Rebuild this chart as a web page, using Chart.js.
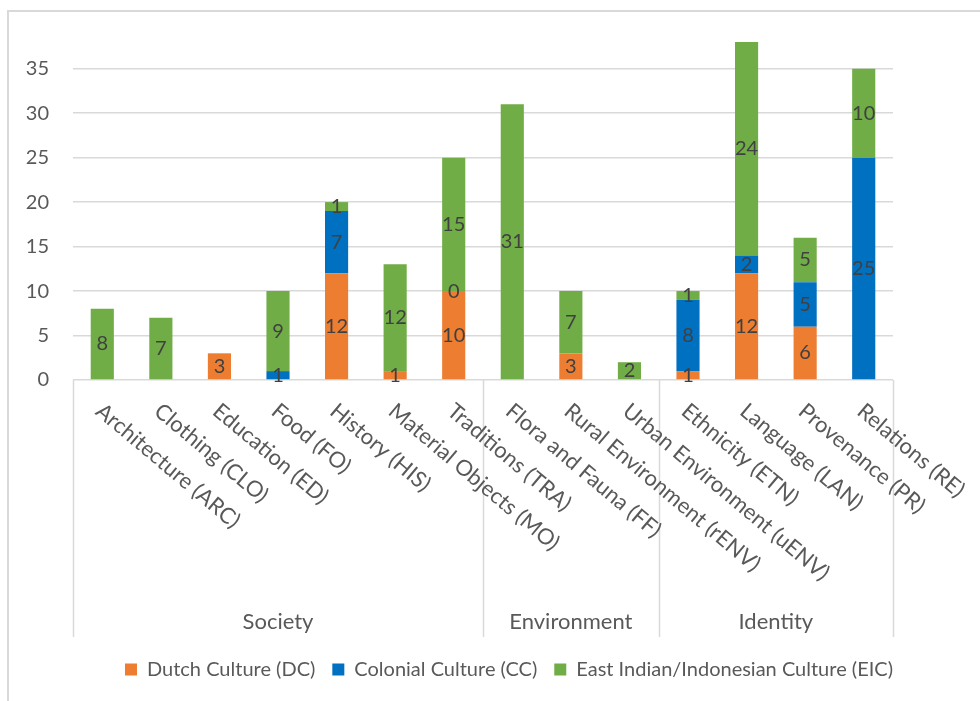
<!DOCTYPE html>
<html>
<head>
<meta charset="utf-8">
<title>Cultural references by category</title>
<script src="https://cdn.jsdelivr.net/npm/chart.js@4/dist/chart.umd.min.js"></script>
<style>
  html, body { margin: 0; padding: 0; background: #fff; overflow: hidden; }
  #frame {
    position: absolute; left: 7px; top: 10px;
    width: 1000px; height: 700px;
    border: 2px solid #d9d9d9;
  }
  #chart { display: block; }
</style>
</head>
<body>
<div id="frame"><canvas id="chart" width="1000" height="689"></canvas></div>
<script>
const categories = [
  "Architecture (ARC)", "Clothing (CLO)", "Education (ED)", "Food (FO)",
  "History (HIS)", "Material Objects (MO)", "Traditions (TRA)",
  "Flora and Fauna (FF)", "Rural Environment (rENV)", "Urban Environment (uENV)",
  "Ethnicity (ETN)", "Language (LAN)", "Provenance (PR)", "Relations (RE)"
];
const groupNames = ["Society", "Environment", "Identity"];
const groupSizes = [7, 3, 4];

const dutchCulture    = [null, null, 3, null, 12, 1, 10, null, 3, null, 1, 12, 6, null];
const colonialCulture = [null, null, null, 1, 7, null, 0, null, null, null, 8, 2, 5, 25];
const eastIndianCulture = [8, 7, null, 9, 1, 12, 15, 31, 7, 2, 1, 24, 5, 10];

const yTicks = [0, 5, 10, 15, 20, 25, 30, 35];
const yMax = 38;

const FONT = "Lato, 'Liberation Sans', sans-serif";
const TEXT = "#595959";
const LINE = "#d9d9d9";
const LABEL_ANGLE = 40 * Math.PI / 180;

// value labels centred in every stacked segment
const segmentLabels = {
  id: "segmentLabels",
  afterDatasetsDraw(chart) {
    const ctx = chart.ctx;
    ctx.save();
    ctx.font = "20px " + FONT;
    ctx.fillStyle = "#404040";
    ctx.textAlign = "center";
    ctx.textBaseline = "middle";
    chart.data.datasets.forEach((ds, di) => {
      chart.getDatasetMeta(di).data.forEach((bar, i) => {
        const v = ds.data[i];
        if (v === null || v === undefined) return;
        ctx.fillText(String(v), bar.x, (bar.y + bar.base) / 2);
      });
    });
    ctx.restore();
  }
};

// slanted category names, group dividers and group names under the x axis
const groupedAxis = {
  id: "groupedAxis",
  afterLayout(chart) {
    // centre the legend under the whole frame, not only the plot
    chart.legend.left = 0;
    chart.legend.right = chart.width;
  },
  afterDraw(chart) {
    const ctx = chart.ctx;
    const x = chart.scales.x;
    const n = categories.length;
    const step = x.width / n;
    const top = x.top;
    const sepBottom = top + 257;

    ctx.save();
    ctx.strokeStyle = LINE;
    ctx.lineWidth = 1.5;
    let k = 0;
    const edges = [0];
    groupSizes.forEach(s => { k += s; edges.push(k); });
    edges.forEach(e => {
      const px = Math.round(x.left + e * step) + 0.5;
      ctx.beginPath();
      ctx.moveTo(px, top);
      ctx.lineTo(px, sepBottom);
      ctx.stroke();
    });

    ctx.fillStyle = TEXT;
    ctx.font = "22px " + FONT;
    ctx.textAlign = "left";
    ctx.textBaseline = "middle";
    categories.forEach((c, i) => {
      const cx = x.getPixelForValue(i);
      ctx.save();
      ctx.translate(cx - 3.5, top + 28);
      ctx.rotate(LABEL_ANGLE);
      ctx.fillText(c, 0, 0);
      ctx.restore();
    });

    ctx.textAlign = "center";
    groupNames.forEach((g, gi) => {
      const mid = x.left + (edges[gi] + edges[gi + 1]) / 2 * step;
      ctx.fillText(g, mid, top + 242);
    });
    ctx.restore();
  }
};

function draw() {
  new Chart(document.getElementById("chart"), {
    type: "bar",
    data: {
      labels: categories,
      datasets: [
        { label: "Dutch Culture (DC)", data: dutchCulture, backgroundColor: "#ED7D31" },
        { label: "Colonial Culture (CC)", data: colonialCulture, backgroundColor: "#0070C0" },
        { label: "East Indian/Indonesian Culture (EIC)", data: eastIndianCulture, backgroundColor: "#70AD47" }
      ]
    },
    options: {
      responsive: false,
      animation: false,
      events: [],
      layout: { padding: { left: 0, right: 116, top: 30, bottom: 11.5 } },
      datasets: { bar: { barPercentage: 0.395, categoryPercentage: 1 } },
      plugins: {
        legend: {
          position: "bottom",
          labels: {
            font: { family: FONT, size: 20 },
            color: TEXT,
            boxWidth: 12,
            boxHeight: 12,
            padding: 17
          }
        },
        tooltip: { enabled: false }
      },
      scales: {
        x: {
          stacked: true,
          grid: { display: false },
          border: { display: false },
          ticks: { display: false },
          afterFit: (s) => { s.height = 262.5; }
        },
        y: {
          stacked: true,
          min: 0,
          max: yMax,
          afterBuildTicks: (s) => { s.ticks = yTicks.map(v => ({ value: v })); },
          grid: {
            color: LINE,
            lineWidth: 1.5,
            drawTicks: true,
            tickLength: 24,
            tickColor: "rgba(0,0,0,0)"
          },
          border: { display: false },
          ticks: {
            font: { family: FONT, size: 20 },
            color: TEXT,
            padding: 0
          },
          afterFit: (s) => { s.width = 64; }
        }
      }
    },
    plugins: [segmentLabels, groupedAxis]
  });
}

document.fonts.load("20px Lato").then(draw, draw);
</script>
</body>
</html>
